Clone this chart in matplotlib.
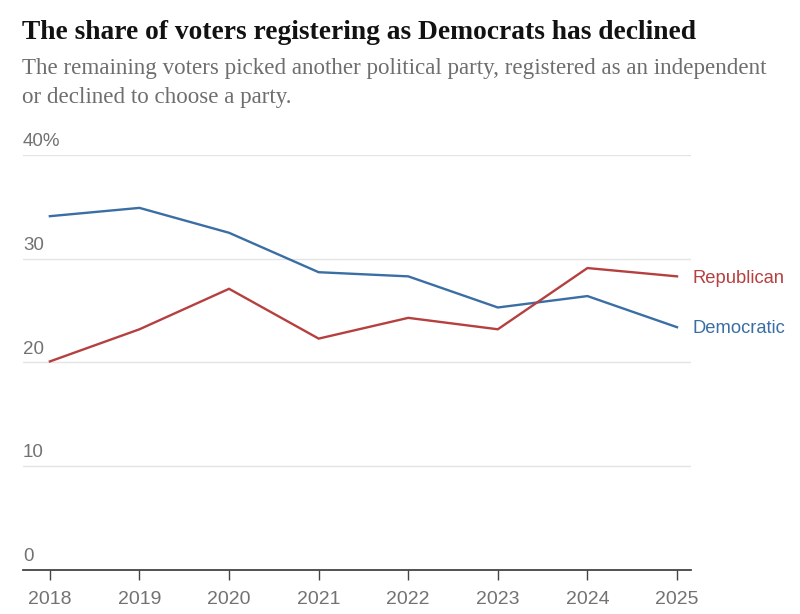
import matplotlib.pyplot as plt
import matplotlib.transforms as mtransforms

# data (percent of registered voters)
years = [2018, 2019, 2020, 2021, 2022, 2023, 2024, 2025]
democratic = [34.1, 34.9, 32.5, 28.7, 28.3, 25.3, 26.4, 23.4]
republican = [20.1, 23.2, 27.1, 22.3, 24.3, 23.2, 29.1, 28.3]
y_ticks = [0, 10, 20, 30, 40]
y_labels = ["0", "10", "20", "30", "40%"]

title = "The share of voters registering as Democrats has declined"
subtitle = ("The remaining voters picked another political party, registered as an independent\n"
            "or declined to choose a party.")

blue = "#3a6ea5"
red = "#b5403f"
gray = "#727272"

fig = plt.figure(figsize=(8, 6.14), dpi=100)
ax = fig.add_axes([0.02875, 0.0717, 0.835, 0.6759])

ax.plot(years, democratic, color=blue, lw=1.7, solid_joinstyle="miter")
ax.plot(years, republican, color=red, lw=1.7, solid_joinstyle="miter")

ax.set_xlim(2017.70, 2025.156)
ax.set_ylim(0, 40)

# gridlines
for v in y_ticks[1:]:
    ax.axhline(v, color="#e4e4e4", lw=1, zorder=0)

# y labels sit above the gridlines at the left edge
trans = mtransforms.blended_transform_factory(ax.transAxes, ax.transData)
for v, lab in zip(y_ticks, y_labels):
    ax.annotate(lab, xy=(0, v), xycoords=trans, xytext=(0, 3.5), textcoords="offset points",
                ha="left", va="bottom", fontsize=13.5, color=gray, family="Liberation Sans")

for s in ["top", "right", "left"]:
    ax.spines[s].set_visible(False)
ax.spines["bottom"].set_color("#444444")
ax.spines["bottom"].set_linewidth(1.3)

ax.set_yticks([])
ax.set_xticks(years)
ax.set_xticklabels([str(y) for y in years], fontsize=14, color=gray, family="Liberation Sans")
ax.tick_params(axis="x", direction="out", length=7, width=1, color="#444444", pad=8)

# end labels
ax.annotate("Republican", xy=(years[-1], republican[-1]), xytext=(11, -1.5), textcoords="offset points",
            ha="left", va="center", fontsize=13.2, color=red, family="Liberation Sans")
ax.annotate("Democratic", xy=(years[-1], democratic[-1]), xytext=(11, -1), textcoords="offset points",
            ha="left", va="center", fontsize=13.2, color=blue, family="Liberation Sans")

fig.text(0.0275, 0.947, title, fontsize=19.8, fontweight="bold", family="Liberation Serif",
         ha="left", va="center", color="#121212")
fig.text(0.0275, 0.865, subtitle, fontsize=16.6, family="Liberation Serif", color="#6e6e6e",
         ha="left", va="center", linespacing=1.5)

fig.savefig("out.png", dpi=100)
